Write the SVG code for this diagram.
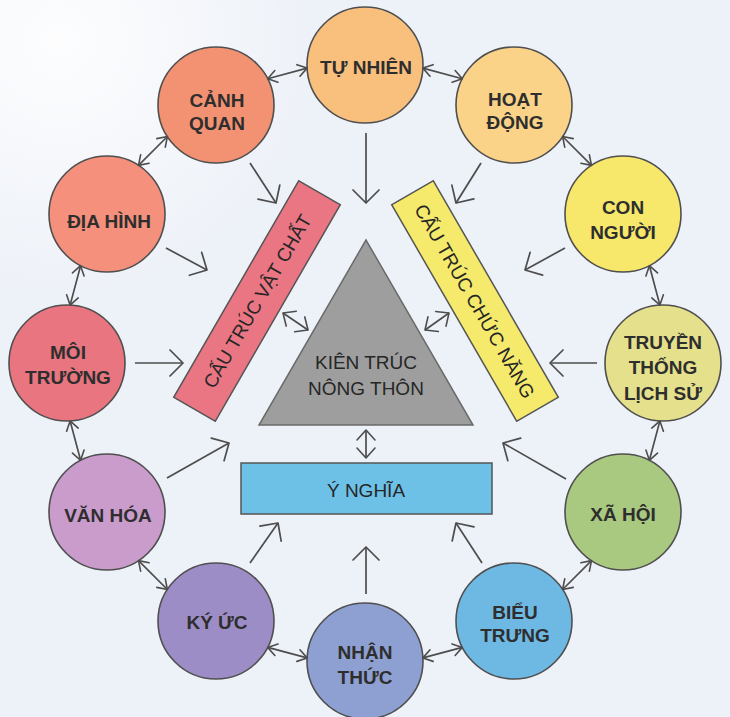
<svg xmlns="http://www.w3.org/2000/svg" width="730" height="717" viewBox="0 0 730 717">
<defs>
<radialGradient id="glow" cx="60" cy="40" r="260" gradientUnits="userSpaceOnUse">
<stop offset="0" stop-color="#ffffff" stop-opacity="0.9"/>
<stop offset="1" stop-color="#ffffff" stop-opacity="0"/>
</radialGradient>
<marker id="big" viewBox="-15 -15 17 30" refX="0" refY="0" markerWidth="17" markerHeight="30" markerUnits="userSpaceOnUse" orient="auto-start-reverse" style="overflow:visible"><path d="M-13,-13 L0,0 L-13,13" fill="none" stroke="#4d4d4d" stroke-width="1.7" stroke-linejoin="round" stroke-linecap="round"/></marker>
<marker id="sm" viewBox="-11 -8 12 16" refX="0" refY="0" markerWidth="12" markerHeight="16" markerUnits="userSpaceOnUse" orient="auto-start-reverse" style="overflow:visible"><path d="M-9,-6 L0,0 L-9,6" fill="none" stroke="#4d4d4d" stroke-width="1.6" stroke-linejoin="round" stroke-linecap="round"/></marker>
<marker id="md" viewBox="-12 -11 13 22" refX="0" refY="0" markerWidth="13" markerHeight="22" markerUnits="userSpaceOnUse" orient="auto-start-reverse" style="overflow:visible"><path d="M-10,-9 L0,0 L-10,9" fill="none" stroke="#4d4d4d" stroke-width="1.6" stroke-linejoin="round" stroke-linecap="round"/></marker>
</defs>
<style>
.node circle{stroke:#4f4f4f;stroke-width:1.6}
.lbl{font-family:"Liberation Sans",Arial,sans-serif;font-size:19px;font-weight:bold;fill:#2e2e2e;text-anchor:middle}
.mid{font-family:"Liberation Sans",Arial,sans-serif;font-size:19px;fill:#262626;text-anchor:middle}
.conn line{stroke:#4d4d4d;stroke-width:1.7;fill:none}
.dbl{marker-start:url(#sm);marker-end:url(#sm)}
.one{marker-end:url(#big)}
.dm{marker-start:url(#md);marker-end:url(#md)}
</style>
<rect width="730" height="717" fill="#EDF1F8"/>
<rect width="730" height="717" fill="url(#glow)"/>

<g id="n-tu-nhien" class="node"><circle cx="365" cy="65" r="58" fill="#F9BF7D"/><text class="lbl" x="366" y="74">TỰ NHIÊN</text></g>
<g id="n-hoat-dong" class="node"><circle cx="514" cy="105" r="58" fill="#FAD388"/><text class="lbl" x="515" y="106">HOẠT</text><text class="lbl" x="515" y="129">ĐỘNG</text></g>
<g id="n-con-nguoi" class="node"><circle cx="623" cy="214" r="58" fill="#F7E86C"/><text class="lbl" x="623" y="214">CON</text><text class="lbl" x="623" y="239">NGƯỜI</text></g>
<g id="n-truyen-thong" class="node"><circle cx="663" cy="363" r="58" fill="#E5E08C"/><text class="lbl" x="663" y="349">TRUYỀN</text><text class="lbl" x="663" y="374">THỐNG</text><text class="lbl" x="663" y="400">LỊCH SỬ</text></g>
<g id="n-xa-hoi" class="node"><circle cx="623" cy="512" r="58" fill="#A9C880"/><text class="lbl" x="623" y="521">XÃ HỘI</text></g>
<g id="n-bieu-trung" class="node"><circle cx="514" cy="621" r="58" fill="#6EB9E3"/><text class="lbl" x="515" y="619">BIỂU</text><text class="lbl" x="515" y="642">TRƯNG</text></g>
<g id="n-nhan-thuc" class="node"><circle cx="365" cy="661" r="58" fill="#8E9FD2"/><text class="lbl" x="365" y="659">NHẬN</text><text class="lbl" x="365" y="684">THỨC</text></g>
<g id="n-ky-uc" class="node"><circle cx="216" cy="621" r="58" fill="#9D8DC7"/><text class="lbl" x="217" y="629">KÝ ỨC</text></g>
<g id="n-van-hoa" class="node"><circle cx="107" cy="512" r="58" fill="#C99CCC"/><text class="lbl" x="108" y="522">VĂN HÓA</text></g>
<g id="n-moi-truong" class="node"><circle cx="67" cy="363" r="58" fill="#E8757F"/><text class="lbl" x="68" y="359">MÔI</text><text class="lbl" x="68" y="384">TRƯỜNG</text></g>
<g id="n-dia-hinh" class="node"><circle cx="107" cy="214" r="58" fill="#F5907C"/><text class="lbl" x="109" y="228">ĐỊA HÌNH</text></g>
<g id="n-canh-quan" class="node"><circle cx="216" cy="105" r="58" fill="#F39272"/><text class="lbl" x="217" y="107">CẢNH</text><text class="lbl" x="217" y="130">QUAN</text></g>

<g id="n-kien-truc"><polygon points="366,240 259,425 473,425" fill="#9E9E9E" stroke="#6a6a6a" stroke-width="1.5"/><text class="mid" x="366" y="369">KIÊN TRÚC</text><text class="mid" x="366" y="395">NÔNG THÔN</text></g>
<g id="n-vat-chat"><g transform="translate(257 301) rotate(-60)"><rect x="-125" y="-24" width="250" height="48" fill="#EA7684" stroke="#555" stroke-width="1.5"/><text class="mid" x="0" y="7">CẤU TRÚC VẬT CHẤT</text></g></g>
<g id="n-chuc-nang"><g transform="translate(475 301) rotate(60)"><rect x="-125" y="-24" width="250" height="48" fill="#F6EA6C" stroke="#555" stroke-width="1.5"/><text class="mid" x="0" y="7">CẤU TRÚC CHỨC NĂNG</text></g></g>
<g id="n-y-nghia"><rect x="241" y="463" width="251" height="51" fill="#6EC1E6" stroke="#555" stroke-width="1.5"/><text class="mid" x="366" y="497">Ý NGHĨA</text></g>

<g id="connectors" class="conn">
<line class="dbl" x1="422.9" y1="68.1" x2="462.3" y2="78.7"/>
<line class="dbl" x1="562.6" y1="136.5" x2="591.5" y2="165.4"/>
<line class="dbl" x1="649.4" y1="265.7" x2="659.9" y2="305.1"/>
<line class="dbl" x1="659.9" y1="420.9" x2="649.4" y2="460.3"/>
<line class="dbl" x1="591.5" y1="560.6" x2="562.6" y2="589.5"/>
<line class="dbl" x1="462.3" y1="647.4" x2="422.9" y2="657.9"/>
<line class="dbl" x1="307.1" y1="657.9" x2="267.7" y2="647.4"/>
<line class="dbl" x1="167.4" y1="589.5" x2="138.5" y2="560.6"/>
<line class="dbl" x1="80.6" y1="460.3" x2="70.1" y2="420.9"/>
<line class="dbl" x1="70.1" y1="305.1" x2="80.6" y2="265.7"/>
<line class="dbl" x1="138.5" y1="165.4" x2="167.4" y2="136.5"/>
<line class="dbl" x1="267.7" y1="78.7" x2="307.1" y2="68.1"/>

<line class="one" x1="250" y1="163" x2="276" y2="203"/>
<line class="one" x1="366" y1="133" x2="366" y2="203"/>
<line class="one" x1="481" y1="163" x2="456" y2="203"/>
<line class="one" x1="166" y1="248" x2="207" y2="270"/>
<line class="one" x1="565" y1="248" x2="525" y2="270"/>
<line class="one" x1="135" y1="363" x2="183" y2="363"/>
<line class="one" x1="597" y1="363" x2="550" y2="363"/>
<line class="one" x1="167" y1="478" x2="229" y2="443"/>
<line class="one" x1="566" y1="479" x2="503" y2="443"/>
<line class="one" x1="250" y1="563" x2="278" y2="523"/>
<line class="one" x1="482" y1="563" x2="456" y2="523"/>
<line class="one" x1="366" y1="594" x2="366" y2="547"/>

<line class="dm" x1="283" y1="313" x2="308" y2="330"/>
<line class="dm" x1="425" y1="330" x2="449" y2="313"/>
<line class="dm" x1="366" y1="430" x2="366" y2="458"/>
</g>
</svg>
